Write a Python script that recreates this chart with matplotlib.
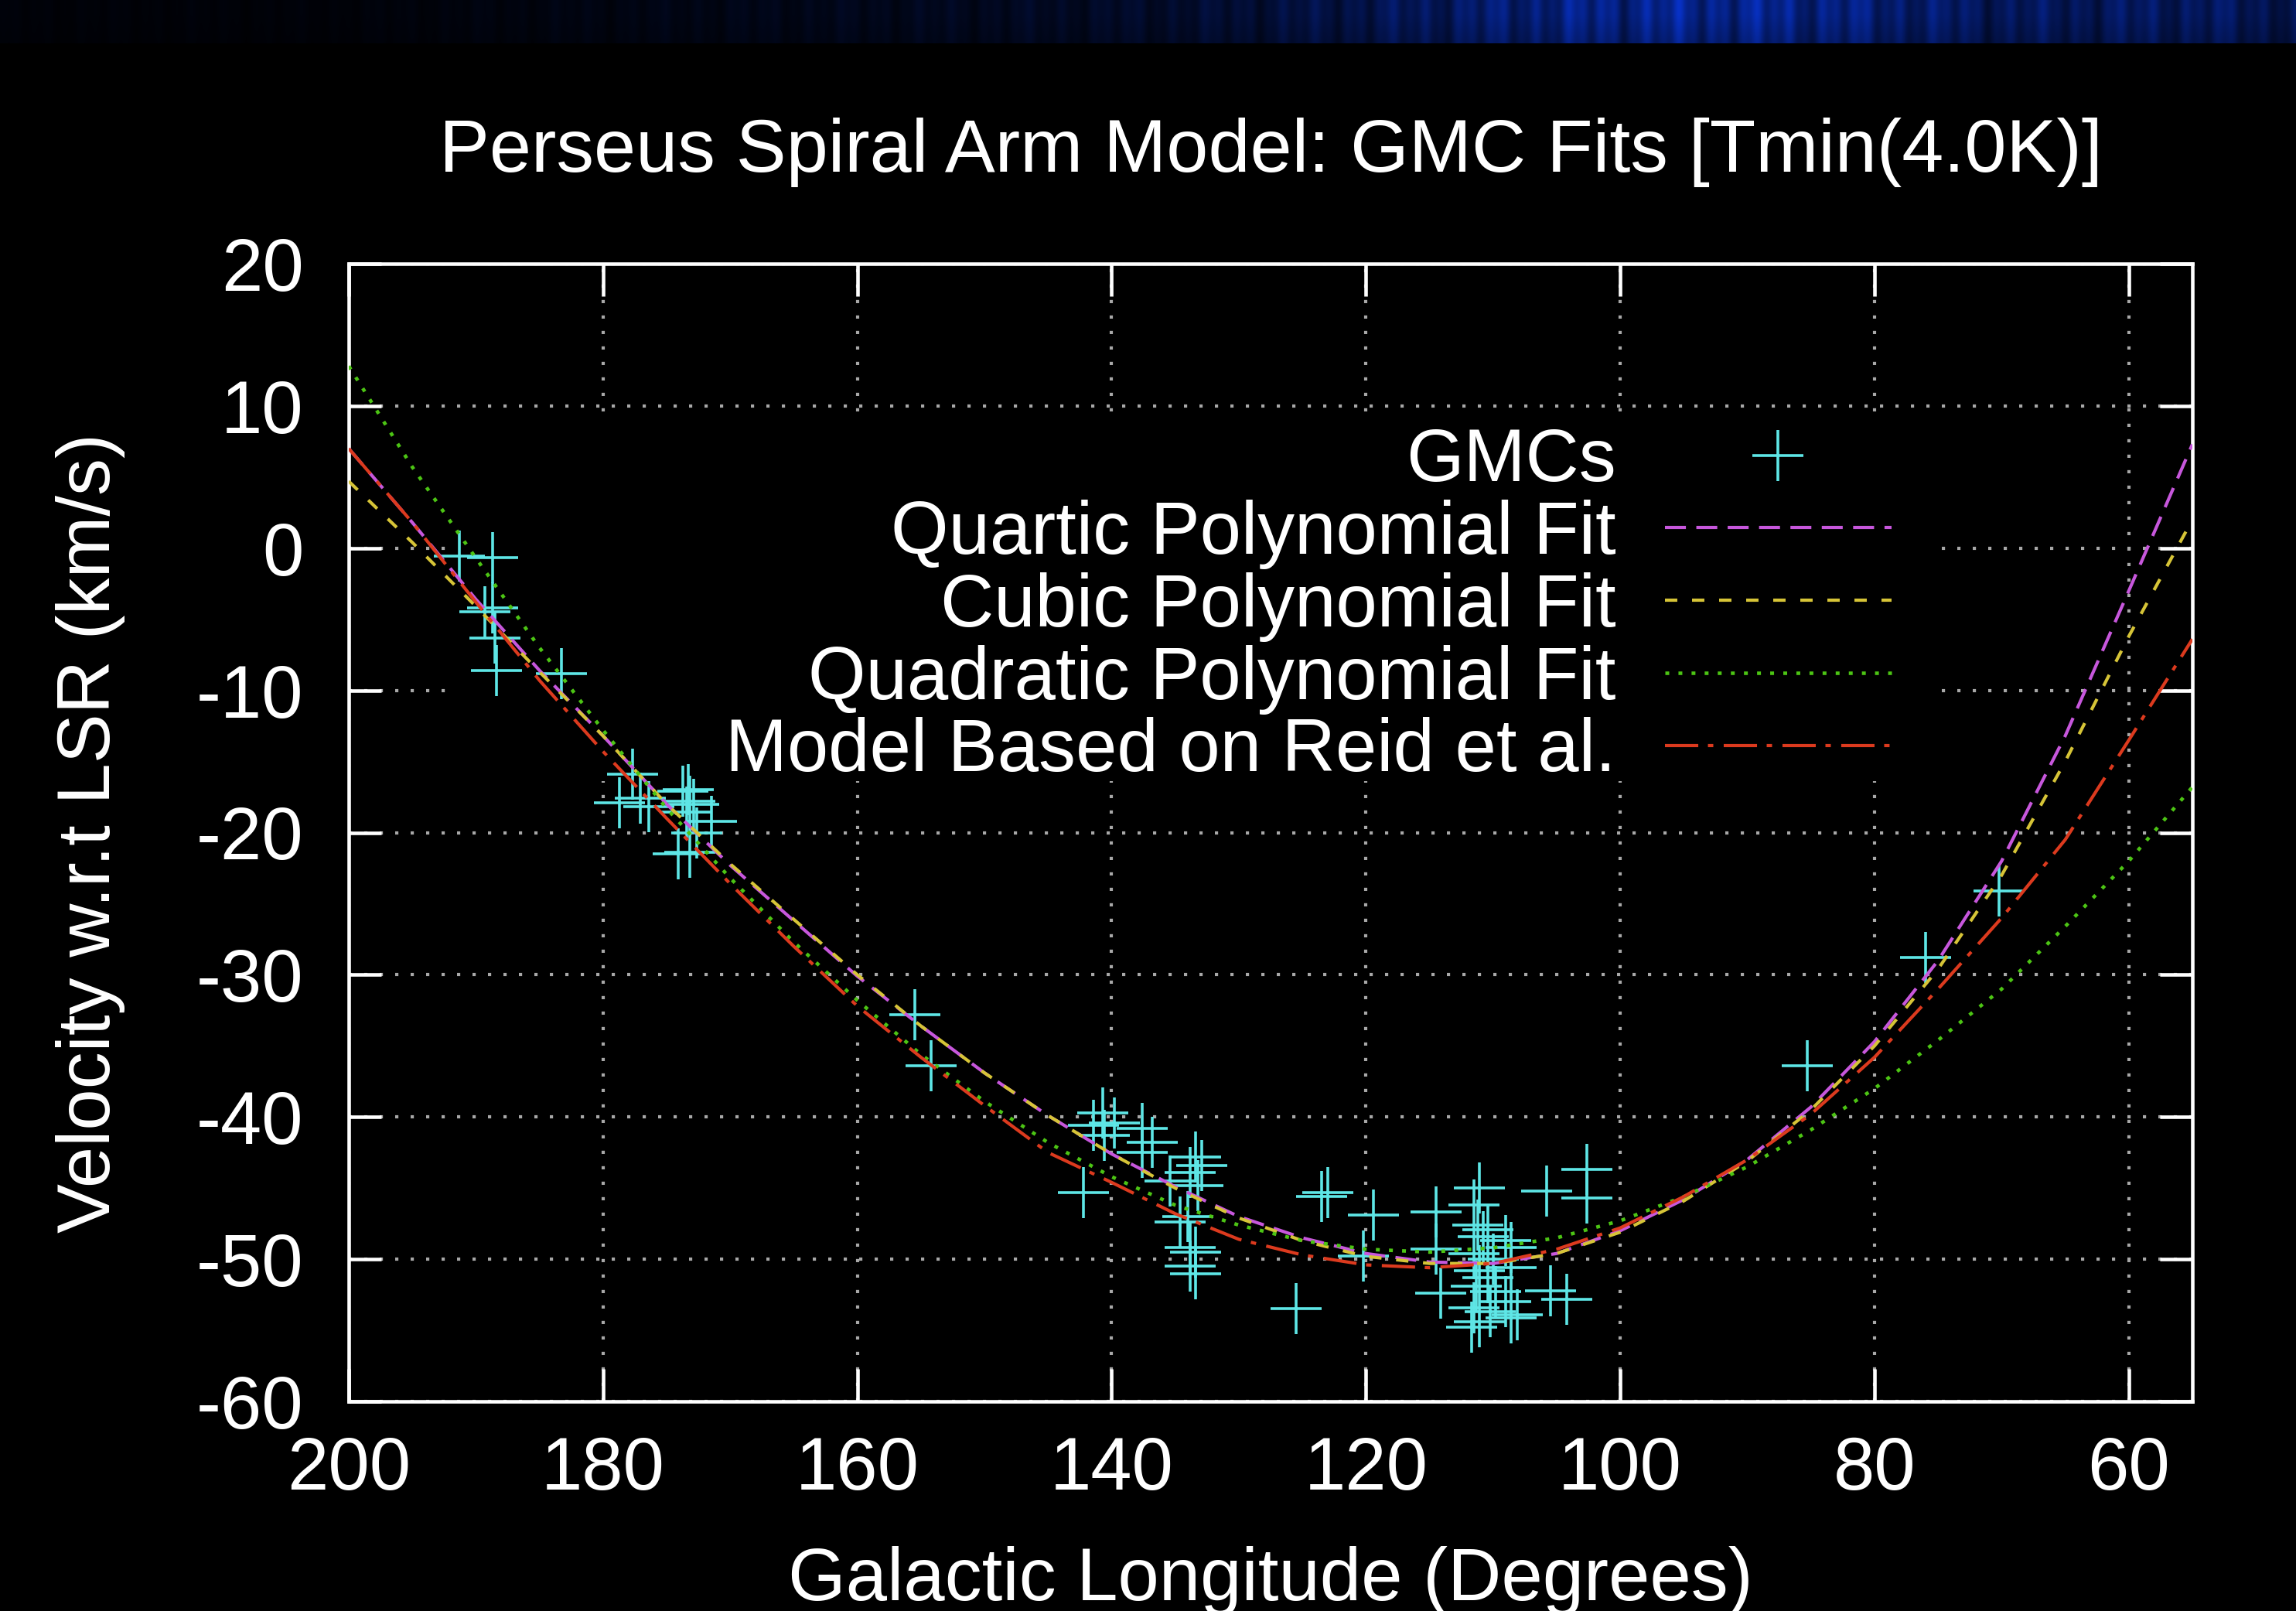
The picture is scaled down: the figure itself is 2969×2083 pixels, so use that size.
import numpy as np
import matplotlib.pyplot as plt
from matplotlib.patches import Rectangle

plt.rcParams['font.family'] = ['Liberation Sans', 'DejaVu Sans']
plt.rcParams['lines.scale_dashes'] = False
plt.rcParams['axes.unicode_minus'] = False

# GMC positions (galactic longitude, velocity)
gmc_lon = [191.3, 188.7, 189.3, 188.7, 188.5, 188.4, 183.3,
           177.7, 178.7, 177.1, 176.4, 173.3, 173.7, 173.2, 172.9, 173.4, 171.5, 172.6, 174.1, 173.2,
           155.5, 154.2,
           142.2, 140.7, 141.4, 139.8, 140.6, 137.6, 137.6, 136.8, 133.4, 132.9, 133.8, 133.2, 135.4,
           134.0, 134.6, 133.8, 133.4, 133.8, 133.4,
           123.5, 123.0, 119.4, 120.2, 125.5,
           114.5, 114.5, 114.1, 111.1, 111.5, 105.8, 102.6, 102.6, 105.5, 104.2,
           111.2, 110.4, 110.8, 109.0, 108.6, 111.5, 110.0, 111.05, 108.6, 110.4, 111.3, 109.8,
           109.0, 111.5, 110.2, 108.6, 111.05, 108.1, 111.7,
           85.3, 76.0, 70.2]
gmc_vel = [-0.55, -0.65, -4.5, -4.2, -6.3, -8.6, -8.8,
           -15.9, -17.9, -17.6, -18.2, -17.0, -17.1, -17.8, -18.0, -18.55, -19.2, -20.0, -21.5, -21.4,
           -32.8, -36.4,
           -45.3, -39.7, -40.6, -40.4, -41.3, -40.8, -42.5, -41.8, -42.8, -43.4, -43.9, -44.8, -44.5,
           -47.0, -47.4, -49.2, -49.5, -50.5, -51.0,
           -45.6, -45.3, -46.9, -49.8, -53.5,
           -46.7, -49.3, -52.4, -45.0, -46.2, -45.2, -43.7, -45.7, -52.2, -52.8,
           -47.6, -47.9, -48.4, -48.7, -49.2, -49.6, -50.0, -50.8, -50.6, -51.3, -51.9, -52.3,
           -53.0, -53.4, -53.7, -54.1, -54.4, -53.9, -54.8,
           -36.4, -28.8, -24.1]

# fitted curves every 5 degrees
fit_lon = [200, 195, 190, 185, 180, 175, 170, 165, 160, 155, 150, 145, 140, 135, 130,
           125, 120, 115, 110, 105, 100, 95, 90, 85, 80, 75, 70, 65, 60, 55]
quartic = [7.0, 1.8, -3.6, -8.6, -13.2, -18.0, -22.3, -26.2, -30.1, -33.6, -36.9, -39.9, -42.6, -44.9, -47.0,
           -48.5, -49.6, -50.2, -50.3, -49.6, -48.0, -45.8, -43.0, -39.3, -34.7, -29.0, -22.0, -13.2, -3.0, 7.3]
cubic = [4.7, 0.4, -4.1, -8.7, -13.2, -18.0, -22.2, -26.1, -30.0, -33.6, -36.9, -39.9, -42.6, -45.0, -47.1,
         -48.7, -49.8, -50.3, -50.3, -49.6, -48.1, -45.9, -43.1, -39.5, -35.0, -29.6, -23.0, -15.0, -6.2, 2.0]
quadratic = [12.8, 5.7, -0.7, -7.0, -12.8, -18.3, -23.2, -27.7, -31.8, -35.6, -38.9, -41.8, -44.2, -46.2, -47.6,
             -48.7, -49.3, -49.5, -49.2, -48.5, -47.3, -45.6, -43.5, -40.9, -38.0, -34.6, -31.0, -26.6, -22.0, -16.8]
reid = [7.0, 1.8, -3.8, -9.3, -14.3, -19.0, -23.6, -28.0, -32.2, -35.8, -39.2, -42.5, -44.6, -46.8, -48.6,
        -49.7, -50.4, -50.6, -50.3, -49.3, -47.8, -45.6, -43.0, -39.8, -35.8, -31.0, -26.0, -20.5, -13.5, -6.4]

labels = ['GMCs', 'Quartic Polynomial Fit', 'Cubic Polynomial Fit',
          'Quadratic Polynomial Fit', 'Model Based on Reid et al.']

fig = plt.figure(figsize=(29.69, 20.83), dpi=100, facecolor='black')

# blue nebula strip across the top
band = fig.add_axes([0, 1 - 56 / 2083, 1, 56 / 2083])
xs = np.linspace(0, 1, 1500)
glow = (0.06 + 0.22 * np.clip((xs - 0.14) / 0.42, 0, 1)
        + 0.7 * np.exp(-((xs - 0.74) / 0.14) ** 2)
        + 0.3 * np.exp(-((xs - 0.96) / 0.07) ** 2))
streak = 0.7 + 0.14 * np.sin(xs * 397) + 0.1 * np.sin(xs * 911 + 1.3) + 0.08 * np.sin(xs * 157 + 0.4)
bright = np.clip(glow * streak, 0, 1)
rows = np.linspace(0, 1, 30)[:, None]
fade = np.clip(1.1 - 0.3 * rows, 0, 1)
img = np.zeros((30, xs.size, 3))
img[..., 0] = 0.03 * bright * fade
img[..., 1] = 0.2 * bright * fade
img[..., 2] = 0.8 * bright * fade
band.imshow(img, aspect='auto', interpolation='bicubic')
band.set_axis_off()

ax = fig.add_axes([451 / 2969, 271 / 2083, 2384 / 2969, 1471 / 2083])
ax.set_facecolor('black')
ax.set_axisbelow(True)

# opaque key area hides the grid behind it
ax.add_patch(Rectangle((0.058, 0.545), 0.804, 0.316, transform=ax.transAxes,
                       facecolor='black', edgecolor='none', zorder=1))

h_gmc, = ax.plot(gmc_lon, gmc_vel, linestyle='none', marker='+', markersize=47,
                 markeredgewidth=2.6, color='#5ee6e6', zorder=2)
h_q4, = ax.plot(fit_lon, quartic, color='#c757dc', lw=3.0, linestyle=(0, (19.5, 9.7)), zorder=3)
h_q3, = ax.plot(fit_lon, cubic, color='#d6c437', lw=3.0, linestyle=(0, (11.5, 13.7)), zorder=3)
h_q2, = ax.plot(fit_lon, quadratic, color='#4cc414', lw=3.3, linestyle=(0, (3.6, 8.6)), zorder=3)
h_rd, = ax.plot(fit_lon, reid, color='#dc3a1e', lw=3.0, linestyle=(0, (31, 9, 5, 9.7)), zorder=3)

ax.set_xlim(200, 55)
ax.set_ylim(-60, 20)
ax.set_xticks([200, 180, 160, 140, 120, 100, 80, 60])
ax.set_yticks([-60, -50, -40, -30, -20, -10, 0, 10, 20])

ax.grid(True, color='#a8a8a8', linestyle=(0, (3, 11.4)), linewidth=3)
for s in ax.spines.values():
    s.set_color('white')
    s.set_linewidth(3.3)
ax.tick_params(direction='in', length=30, width=3.3, colors='white', labelsize=69,
               top=True, right=True)
ax.tick_params(axis='x', pad=32)
ax.tick_params(axis='y', pad=42)

ax.text(0.5, 1.098, 'Perseus Spiral Arm Model: GMC Fits [Tmin(4.0K)]', transform=ax.transAxes,
        ha='center', va='center', color='white', fontsize=70)
ax.set_xlabel('Galactic Longitude (Degrees)', color='white', fontsize=69, va='center')
ax.xaxis.set_label_coords(0.5, -0.158)
ax.set_ylabel('Velocity w.r.t LSR (km/s)', color='white', fontsize=69, va='center')
ax.yaxis.set_label_coords(-0.140, 0.5)

leg = ax.legend([h_gmc, h_q4, h_q3, h_q2, h_rd], labels, loc='upper right',
                bbox_to_anchor=(0.8368, 0.8565), frameon=False, markerfirst=False,
                fontsize=69, handlelength=3.06, handletextpad=0.66, labelspacing=0.04,
                borderpad=0, borderaxespad=0, numpoints=1, labelcolor='white')

fig.savefig('out.png', dpi=100, facecolor='black')
